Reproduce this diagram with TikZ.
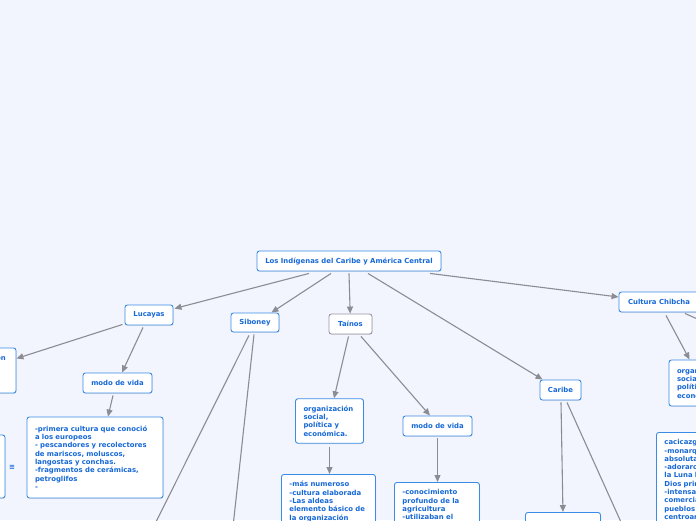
\documentclass[tikz,border=0pt]{standalone}
\usepackage{fontspec}
\newfontfamily\mmsans{DejaVu Sans}
\usepackage{tikz}
\usetikzlibrary{arrows.meta,positioning,shadows}
\definecolor{mmbg}{RGB}{242,245,253}
\definecolor{mmblue}{RGB}{58,140,230}
\definecolor{mmtext}{RGB}{22,104,214}
\definecolor{mmgray}{RGB}{140,140,148}
\definecolor{mmframe}{RGB}{150,152,165}
\tikzset{
  topic/.style={draw=mmblue, line width=0.9pt, fill=white, rounded corners=2.5pt, text=mmtext,
    font={\mmsans\bfseries\fontsize{6.9}{8.3}\selectfont}, inner sep=0pt, minimum height=20pt,
    drop shadow={shadow xshift=0.6pt, shadow yshift=-0.8pt, opacity=0.2}},
  note/.style={topic, align=left, inner xsep=8pt, inner ysep=7pt},
  link/.style={draw=mmgray, line width=1.1pt, -{Triangle[length=7pt,width=6pt]}}
}

\begin{document}
\begin{tikzpicture}[x=1pt,y=-1pt]
\useasboundingbox (0,0) rectangle (696,520);
\fill[mmbg] (0,0) rectangle (696,520);
\clip (0,0) rectangle (696,520);

% main topics
\node[topic, minimum width=184pt] (root) at (349,261) {Los Indígenas del Caribe y América Central};
\node[topic, minimum width=48pt] (luc) at (149,315) {Lucayas};
\node[topic, minimum width=48pt, minimum height=19pt] (sib) at (255,322.5) {Siboney};
\node[topic, draw=mmframe, minimum width=43pt] (tai) at (350.5,324) {Taínos};
\node[topic, minimum width=41pt] (car) at (560.5,390) {Caribe};
\node[topic, minimum width=80pt] (chi) at (659,302) {Cultura Chibcha};

% subtopics
\node[topic, minimum width=69pt] (lmodo) at (117.5,383) {modo de vida};
\node[topic, minimum width=69pt] (tmodo) at (437.5,426) {modo de vida};
\node[note, text width=52pt, minimum height=45pt] (lorg) at (-18,370.5) {organización\\social,\\política y\\económica.};
\node[note, text width=52pt, minimum height=44pt] (torg) at (329.5,421) {organización\\social,\\política y\\económica.};
\node[note, text width=52pt, minimum height=46pt] (corg) at (703,383) {organización\\social,\\política y\\económica.};
\node[note, minimum width=90pt, minimum height=63pt] (lnote) at (-40,466.5) {};
\node[text=mmtext, font={\mmsans\bfseries\fontsize{7}{8}\selectfont}, inner sep=0pt] (leq) at (12,467) {≡};

% details
\node[note, text width=120pt, minimum height=81pt] (ldesc) at (95,457.5) {-primera cultura que conoció\\a los europeos\\- pescandores y recolectores\\de mariscos, moluscos,\\langostas y conchas.\\-fragmentos de cerámicas,\\petroglifos\\-};
\node[note, text width=78pt, anchor=north west] (tdesc) at (281,474) {-más numeroso\\-cultura elaborada\\-Las aldeas\\elemento básico de\\la organización};
\node[note, text width=69pt, anchor=north west] (mdesc) at (394,482) {-conocimiento\\profundo de la\\agricultura\\-utilizaban el};
\node[note, text width=100pt, anchor=north west] (cdesc) at (656,432) {cacicazgos\\-monarquía\\absoluta\\-adoraron al Sol\\la Luna la Tierra\\Dios principal\\-intensa actividad\\comercial con los\\pueblos\\centroamericanos};
\node[note, minimum width=75pt, minimum height=30pt, anchor=north west] (kdesc) at (525,512) {};

% loose ends below the frame
\coordinate (sibA) at (117,600);
\coordinate (sibB) at (225,600);
\coordinate (carA) at (648,582);
\coordinate (chiA) at (740,338);

% connectors
\draw[link] ([xshift=-40pt,yshift=-2pt]root.south) -- ([xshift=1pt,yshift=-4pt]luc.north east);
\draw[link] ([xshift=-18pt,yshift=-2pt]root.south) -- ([xshift=-8pt]sib.north east);
\draw[link] ([yshift=-2pt]root.south) -- (tai);
\draw[link] ([xshift=19pt,yshift=-2pt]root.south) -- ([xshift=3pt]car.north west);
\draw[link] ([xshift=81pt,yshift=-2pt]root.south) -- ([yshift=5pt]chi.west);
\draw[link] ([xshift=-2pt,yshift=1pt]luc.south west) -- ([yshift=12pt]lorg.east);
\draw[link] ([xshift=-6pt,yshift=-2pt]luc.south) -- ([xshift=4.5pt]lmodo.north);
\draw[link] ([xshift=-4.5pt,yshift=-2pt]lmodo.south) -- ([xshift=13pt]ldesc.north);
\draw[link] ([xshift=-6pt,yshift=-3pt]sib.south) -- (sibA);
\draw[link] ([xshift=-1pt,yshift=-2pt]sib.south) -- (sibB);
\draw[link] ([xshift=-2pt,yshift=-2pt]tai.south) -- ([xshift=4.5pt]torg.north);
\draw[link] ([xshift=10.5pt,yshift=-2pt]tai.south) -- ([xshift=-7.5pt]tmodo.north);
\draw[link] ([yshift=-3pt]torg.south) -- (torg.south |- tdesc.north);
\draw[link] ([yshift=-2pt]tmodo.south) -- (tmodo.south |- mdesc.north);
\draw[link] ([xshift=0.5pt,yshift=-2pt]car.south) -- (kdesc.north);
\draw[link] ([xshift=6.5pt,yshift=-2pt]car.south) -- (carA);
\draw[link] ([xshift=7pt,yshift=-3pt]chi.south) -- ([xshift=21pt]corg.north west);
\draw[link] ([xshift=26pt,yshift=-1pt]chi.south) -- (chiA);
\end{tikzpicture}
\end{document}
